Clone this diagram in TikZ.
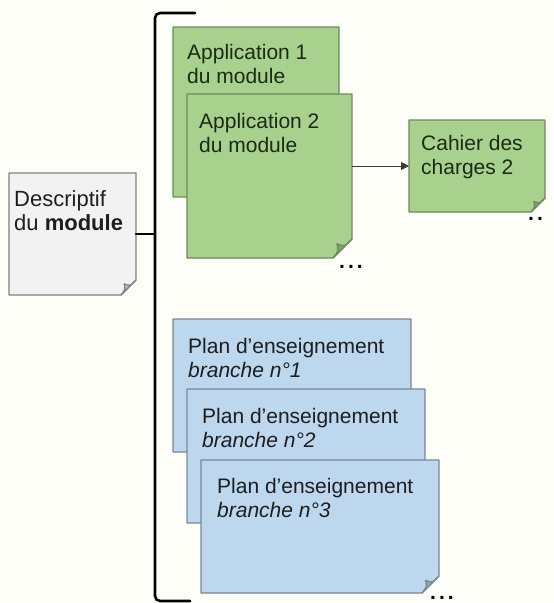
\documentclass[tikz,border=0pt]{standalone}
\usepackage{fontspec}
\setmainfont{Liberation Sans}
\usetikzlibrary{arrows.meta}
\definecolor{bg}{HTML}{FEFEF9}
\definecolor{gfill}{HTML}{A9D18E}
\definecolor{gline}{HTML}{6D8A5C}
\definecolor{gfold}{HTML}{7FA56A}
\definecolor{gtext}{HTML}{1C2A16}
\definecolor{bfill}{HTML}{BDD7EE}
\definecolor{bline}{HTML}{7A8796}
\definecolor{bfold}{HTML}{8EA3B9}
\definecolor{btext}{HTML}{1E1E1E}
\definecolor{wfill}{HTML}{F2F2F2}
\definecolor{wline}{HTML}{808080}
\definecolor{wfold}{HTML}{B8B8B8}
\definecolor{wtext}{HTML}{1E1E1E}
\definecolor{arrowcol}{HTML}{3A3A3A}
% name, x1, y1, x2, y2, fold size, colour prefix
\newcommand\stickynote[7]{%
  \path[fill=#7fill, draw=#7line, line width=1.2pt, line join=round]
    (#2,#3) -- (#4,#3) -- (#4,#5-#6) -- (#4-#6,#5) -- (#2,#5) -- cycle;
  \path[fill=#7fold, draw=#7line, line width=1.1pt, line join=round]
    (#4,#5-#6) .. controls (#4-0.35*#6,#5-0.6*#6) .. (#4-0.8*#6,#5-0.75*#6)
    .. controls (#4-0.7*#6,#5-0.4*#6) .. (#4-#6,#5) -- cycle;
  \node[notearea, minimum width={(#4-#2)*1pt}, minimum height={(#5-#3)*1pt}]
    (#1) at (#2,#3) {};
}
\begin{document}
\begin{tikzpicture}[x=1pt,y=-1pt,
  notearea/.style={inner sep=0pt, outer sep=0pt, anchor=north west},
  notetext/.style={anchor=base west, align=left, inner sep=0pt,
    font=\fontsize{21}{24}\selectfont},
  dots/.style={anchor=base west, inner sep=0pt, font=\fontsize{21}{24}\selectfont\bfseries},
  bracketline/.style={line width=2.6pt, line cap=round},
  flow/.style={draw=arrowcol, line width=1pt, -{Triangle[length=8pt,width=8pt]}}]
\useasboundingbox (0,0) rectangle (554,603);
\clip (0,0) rectangle (554,603);
\fill[bg] (0,0) rectangle (554,603);

% bracket
\coordinate (brtop) at (195,13);
\coordinate (brmid) at (155,237);
\coordinate (brbot) at (190,601);
\draw[bracketline, rounded corners=5pt] (brtop) -- (brtop -| brmid) -- (brbot -| brmid) -- (brbot);

% Descriptif
\stickynote{desc}{9}{173}{136}{295}{15}{w}
\node[notetext, text=wtext, font=\fontsize{22}{23.5}\selectfont] (desctext) at (14,230) {Descriptif\\du \textbf{module}};
\draw[bracketline] (desc.east) -- (desc.east -| brmid);

% Applications
\stickynote{app1}{173}{27}{339}{197}{16}{g}
\node[notetext, text=gtext] (app1text) at (187,83) {Application 1\\du module};
\stickynote{app2}{187}{94}{352}{258}{19}{g}
\node[notetext, text=gtext] (app2text) at (199,152) {Application 2\\du module};
\node[dots] (appdots) at (339,268) {.\hspace{3pt}.\hspace{3pt}.};

% Cahier des charges
\stickynote{cahier}{409}{120}{545}{212}{14}{g}
\node[notetext, text=gtext] (cahiertext) at (421,174) {Cahier des\\charges 2};
\node[dots] (cahierdots) at (528,220) {.\hspace{3pt}.};
\draw[flow] (app2.east |- cahier.west) -- (cahier.west);

% Plans d'enseignement
\stickynote{plan1}{173}{319}{411}{452}{17}{b}
\node[notetext, text=btext] (plan1text) at (188,377) {Plan d’enseignement\\\textit{branche n°1}};
\stickynote{plan2}{187}{389}{425}{523}{17}{b}
\node[notetext, text=btext] (plan2text) at (202,447) {Plan d’enseignement\\\textit{branche n°2}};
\stickynote{plan3}{201}{460}{439}{593}{17}{b}
\node[notetext, text=btext] (plan3text) at (217,517) {Plan d’enseignement\\\textit{branche n°3}};
\node[dots] (plandots) at (430,599) {.\hspace{3pt}.\hspace{3pt}.};
\end{tikzpicture}
\end{document}
